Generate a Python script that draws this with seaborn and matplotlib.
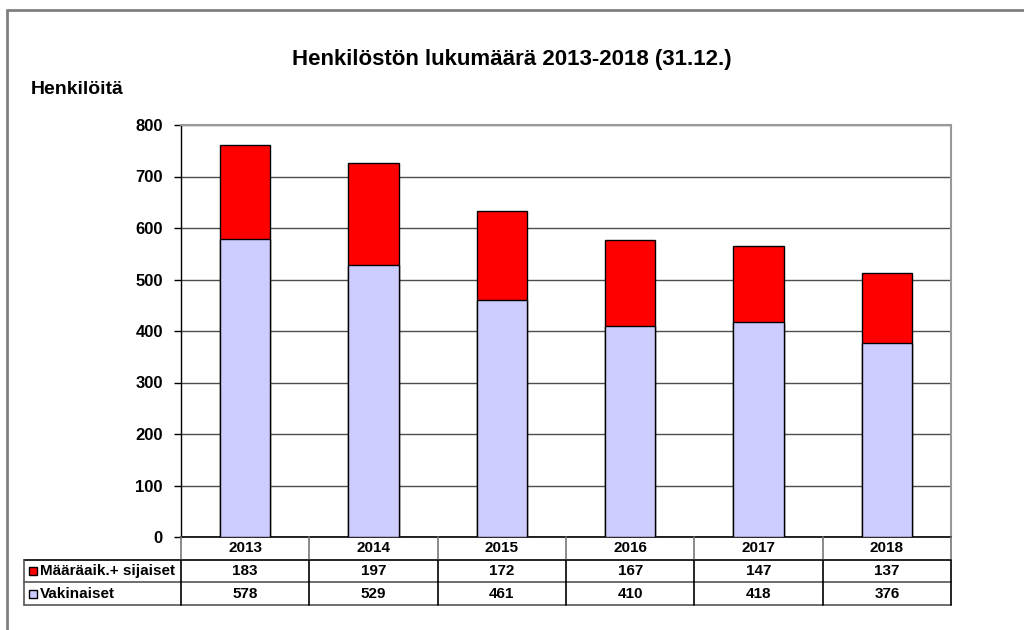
import matplotlib
matplotlib.use("Agg")
import matplotlib.pyplot as plt
import seaborn as sns
import numpy as np
from matplotlib.lines import Line2D
from matplotlib.patches import Rectangle

years = ["2013", "2014", "2015", "2016", "2017", "2018"]
maaraaik = [183, 197, 172, 167, 147, 137]
vakinaiset = [578, 529, 461, 410, 418, 376]
series_labels = ["Määräaik.+ sijaiset", "Vakinaiset"]
title = "Henkilöstön lukumäärä 2013-2018 (31.12.)"
ylabel = "Henkilöitä"
yticks = [0, 100, 200, 300, 400, 500, 600, 700, 800]

RED = "#FF0000"
LAV = "#CCCCFF"

sns.set_theme(style="white")
plt.rcParams["font.family"] = ["Liberation Sans", "DejaVu Sans"]
plt.rcParams["font.weight"] = "bold"
plt.rcParams["text.color"] = "black"
plt.rcParams["ytick.color"] = "black"
plt.rcParams["xtick.color"] = "black"

fig = plt.figure(figsize=(10.24, 6.3), dpi=100)
W, H = 1024, 630

L, R, T, B = 181, 951, 125, 537
ax = fig.add_axes([L / W, 1 - B / H, (R - L) / W, (B - T) / H])

totals = np.array(maaraaik) + np.array(vakinaiset)
sns.barplot(x=years, y=totals, color=RED, saturation=1, width=0.39,
            edgecolor="black", linewidth=1, ax=ax, zorder=3)
sns.barplot(x=years, y=vakinaiset, color=LAV, saturation=1, width=0.39,
            edgecolor="black", linewidth=1, ax=ax, zorder=3)

ax.set_xlim(-0.5, 5.5)
ax.set_ylim(0, 800)
ax.set_yticks(yticks)
ax.set_yticklabels([str(v) for v in yticks], fontsize=12, fontweight="bold", color="black")
ax.set_xticks(range(len(years)))
ax.set_xticklabels([])
ax.tick_params(axis="x", length=0)
ax.tick_params(axis="y", length=5, width=1, color="black", direction="out", pad=8, left=True)
ax.set_xlabel("")
ax.set_ylabel("")
ax.set_axisbelow(True)
ax.yaxis.grid(True, color="#4d4d4d", linewidth=1)
ax.xaxis.grid(False)
for s in ["top", "right"]:
    ax.spines[s].set_color("#999999")
    ax.spines[s].set_linewidth(1.5)
ax.spines["left"].set_color("black")
ax.spines["left"].set_linewidth(1)
ax.spines["bottom"].set_color("black")
ax.spines["bottom"].set_linewidth(1.2)

# data table below the axes
tax = fig.add_axes([L / W, 1 - 605 / H, (R - L) / W, (605 - B) / H])
tax.set_xlim(-0.5, 5.5)
tax.set_ylim(3, 0)
tax.axis("off")
unit = (R - L) / 6.0
xleft = -0.5 - (L - 24) / unit
for yy, c in [(1, "black"), (2, "#555555"), (3, "#555555")]:
    tax.add_line(Line2D([xleft, 5.5], [yy, yy], color=c, lw=1.2, clip_on=False))
for i in range(7):
    x = -0.5 + i
    tax.add_line(Line2D([x, x], [0, 1], color="#777777", lw=1.2, clip_on=False))
    tax.add_line(Line2D([x, x], [1, 3], color="black", lw=1.2, clip_on=False))
tax.add_line(Line2D([xleft, xleft], [1, 3], color="#555555", lw=1.2, clip_on=False))

for i, yr in enumerate(years):
    tax.text(i, 0.5, yr, ha="center", va="center", fontsize=11, fontweight="bold", color="black")
    tax.text(i, 1.5, str(maaraaik[i]), ha="center", va="center", fontsize=11, fontweight="bold", color="black")
    tax.text(i, 2.5, str(vakinaiset[i]), ha="center", va="center", fontsize=11, fontweight="bold", color="black")

sq = 8 / unit
sqh = 8 / ((605 - B) / 3.0)
for row, (lab, col) in enumerate(zip(series_labels, [RED, LAV])):
    yc = 1.5 + row
    tax.add_patch(Rectangle((xleft + 5 / unit, yc - sqh / 2), sq, sqh, facecolor=col,
                            edgecolor="black", lw=1, clip_on=False))
    tax.text(xleft + 16 / unit, yc, lab, ha="left", va="center", fontsize=11, fontweight="bold", color="black")

# titles
fig.text(512 / W, 1 - 59 / H, title, ha="center", va="center", fontsize=16, fontweight="bold", color="black")
fig.text(31 / W, 1 - 90 / H, ylabel, ha="left", va="center", fontsize=14, fontweight="bold", color="black")

# outer chart border (left and top visible)
fig.add_artist(Line2D([7 / W, 7 / W], [0, 1 - 9.5 / H], color="#808080", lw=2, transform=fig.transFigure))
fig.add_artist(Line2D([7 / W, 1], [1 - 9.5 / H, 1 - 9.5 / H], color="#808080", lw=2, transform=fig.transFigure))

fig.savefig("out.png", dpi=100)
